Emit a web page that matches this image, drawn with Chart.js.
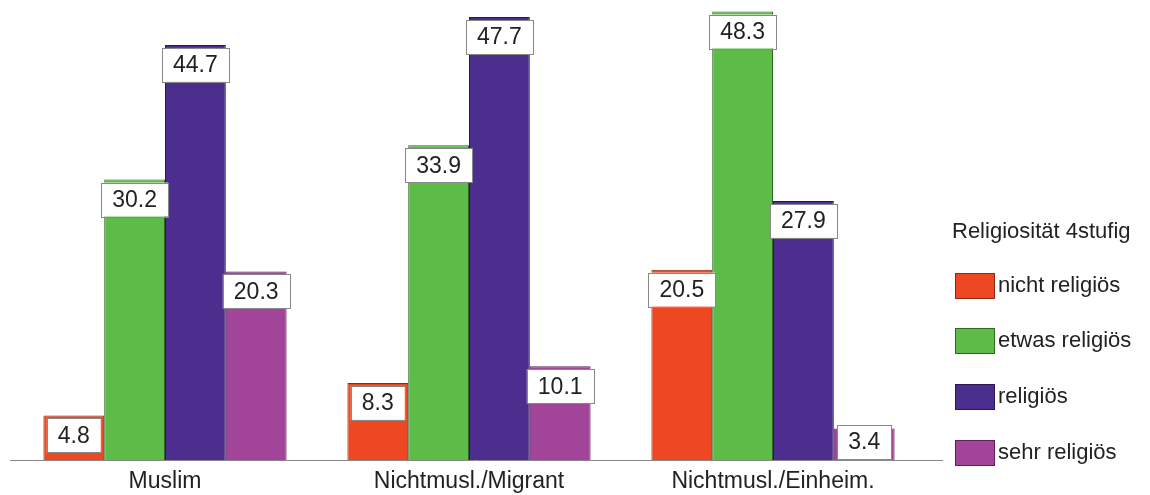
<!DOCTYPE html>
<html>
<head>
<meta charset="utf-8">
<script src="https://cdn.jsdelivr.net/npm/chart.js@4"></script>
<style>
  html, body { margin: 0; padding: 0; background: #fff; }
  #wrap { width: 1150px; height: 495px; }
</style>
</head>
<body>
<div id="wrap"><canvas id="religionChart"></canvas></div>
<script>
// categorie e valori (percentuali)
const gruppen = ['Muslim', 'Nichtmusl./Migrant', 'Nichtmusl./Einheim.'];
const nichtReligioes = [4.8, 8.3, 20.5];
const etwasReligioes = [30.2, 33.9, 48.3];
const religioes = [44.7, 47.7, 27.9];
const sehrReligioes = [20.3, 10.1, 3.4];
const legendTitle = 'Religiosität 4stufig';

const FONT = '"Liberation Sans", Arial, Helvetica, sans-serif';

// etichette dei valori in box bianchi
const valueBoxes = {
    id: 'valueBoxes',
    afterDatasetsDraw(chart) {
        const ctx = chart.ctx;
        const base = chart.scales.y.getPixelForValue(0);
        ctx.save();
        ctx.font = '23px ' + FONT;
        ctx.textAlign = 'center';
        ctx.textBaseline = 'middle';
        chart.data.datasets.forEach((ds, i) => {
            chart.getDatasetMeta(i).data.forEach((el, j) => {
                const txt = ds.data[j].toFixed(1);
                const w = ctx.measureText(txt).width + 22;
                const h = 34;
                const top = Math.min(el.y + 3, base - h - 1);
                const left = el.x - w / 2;
                ctx.fillStyle = '#fff';
                ctx.fillRect(left, top, w, h);
                ctx.strokeStyle = '#888';
                ctx.lineWidth = 1;
                ctx.strokeRect(Math.round(left) + 0.5, Math.round(top) + 0.5, Math.round(w), h);
                ctx.fillStyle = '#222';
                ctx.fillText(txt, el.x, top + h / 2 + 1);
            });
        });
        // linea di base
        ctx.strokeStyle = '#888';
        ctx.beginPath();
        ctx.moveTo(10, Math.round(base) + 0.5);
        ctx.lineTo(943, Math.round(base) + 0.5);
        ctx.stroke();
        ctx.restore();
    }
};

// legenda a destra
const sideLegend = {
    id: 'sideLegend',
    afterDraw(chart) {
        const ctx = chart.ctx;
        ctx.save();
        ctx.font = '22px ' + FONT;
        ctx.textBaseline = 'middle';
        ctx.textAlign = 'left';
        ctx.fillStyle = '#222';
        ctx.fillText(legendTitle, 952, 232);
        const ys = [285, 340, 396, 452];
        chart.data.datasets.forEach((ds, i) => {
            const y = ys[i];
            ctx.fillStyle = ds.backgroundColor;
            ctx.fillRect(955, y - 12, 39, 25);
            ctx.strokeStyle = ds.borderColor;
            ctx.lineWidth = 1;
            ctx.strokeRect(955.5, y - 11.5, 39, 25);
            ctx.fillStyle = '#222';
            ctx.fillText(ds.label, 998, y + 1);
        });
        ctx.restore();
    }
};

const ctx = document.getElementById('religionChart').getContext('2d');
const chart = new Chart(ctx, {
    type: 'bar',
    data: {
        labels: gruppen,
        datasets: [{
            label: 'nicht religiös',
            data: nichtReligioes,
            backgroundColor: '#EE4823',
            borderColor: '#8a2a14'
        }, {
            label: 'etwas religiös',
            data: etwasReligioes,
            backgroundColor: '#5DBB47',
            borderColor: '#2f6a24'
        }, {
            label: 'religiös',
            data: religioes,
            backgroundColor: '#4B2E8E',
            borderColor: '#2a1755'
        }, {
            label: 'sehr religiös',
            data: sehrReligioes,
            backgroundColor: '#A2449A',
            borderColor: '#5e2258'
        }]
    },
    options: {
        responsive: true,
        maintainAspectRatio: false,
        animation: false,
        datasets: {
            bar: {
                barPercentage: 1,
                categoryPercentage: 0.8,
                borderWidth: 1
            }
        },
        layout: {
            padding: { left: 13, top: 5, right: 225, bottom: 0 }
        },
        plugins: {
            legend: { display: false },
            tooltip: { enabled: false }
        },
        scales: {
            x: {
                grid: { display: false, drawTicks: false },
                border: { display: false },
                ticks: {
                    padding: 8,
                    color: '#222',
                    font: { family: FONT, size: 23 }
                },
                afterFit(scale) {
                    scale.height = 35;
                }
            },
            y: {
                display: false,
                min: 0,
                max: 49
            }
        }
    },
    plugins: [valueBoxes, sideLegend]
});
</script>
</body>
</html>
